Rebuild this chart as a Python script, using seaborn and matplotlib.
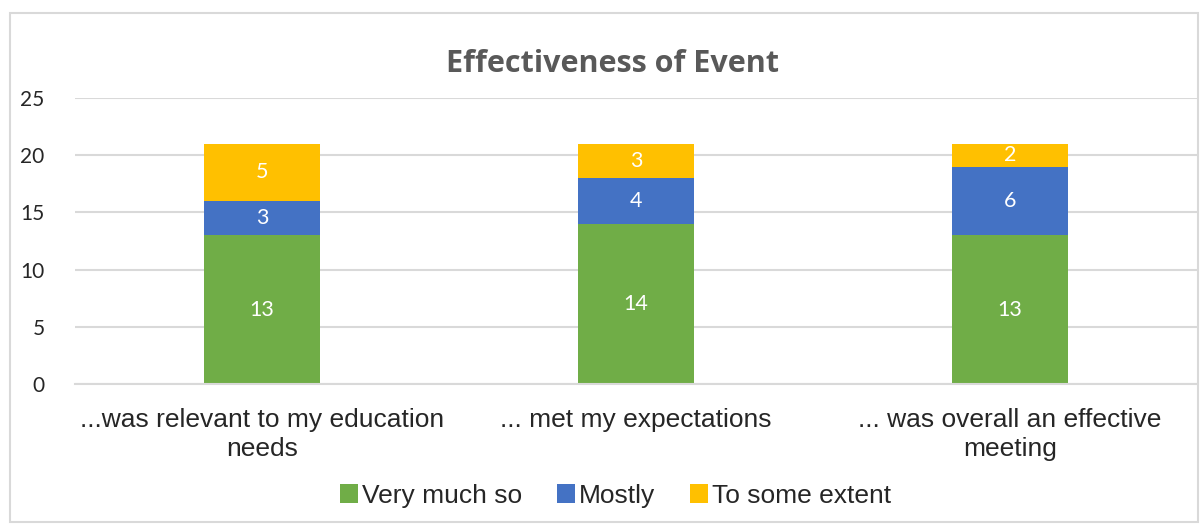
import matplotlib
matplotlib.use("Agg")
import matplotlib.pyplot as plt
import seaborn as sns
import numpy as np
from matplotlib.patches import Rectangle, Patch

# data
categories = ["...was relevant to my education\nneeds", "... met my expectations", "... was overall an effective\nmeeting"]
very_much = [13, 14, 13]
mostly = [3, 4, 6]
some_extent = [5, 3, 2]
series_names = ["Very much so", "Mostly", "To some extent"]
colors = ["#70AD47", "#4472C4", "#FFC000"]

sns.set_style("white")
plt.rcParams['font.family'] = ['Liberation Sans', 'DejaVu Sans']

fig = plt.figure(figsize=(12, 5.25), dpi=100)
ax = fig.add_axes([0.0625, 0.2686, 0.935, 0.5447])

series = [very_much, mostly, some_extent]
bottom = np.zeros(len(categories))
for vals, name, col in zip(series, series_names, colors):
    sns.barplot(x=categories, y=vals, bottom=bottom, color=col, width=0.31,
                ax=ax, edgecolor="none", saturation=1)
    for i, v in enumerate(vals):
        ax.text(i, bottom[i] + v / 2, str(v), ha="center", va="center",
                color="white", fontsize=15.5, family=["Lato", "DejaVu Sans"])
    bottom = bottom + np.array(vals)

ax.set_ylim(0, 25)
ax.set_xlim(-0.5, 2.5)
ax.set_yticks(range(0, 26, 5))
ax.yaxis.grid(True, color="#D9D9D9", linewidth=1.5)
ax.set_axisbelow(True)
for s in ["top", "right", "left"]:
    ax.spines[s].set_visible(False)
ax.spines["bottom"].set_color("#D9D9D9")
ax.spines["bottom"].set_linewidth(1.5)
ax.tick_params(axis="y", length=0, pad=22, labelsize=15)
ax.tick_params(axis="x", length=0, pad=17, labelsize=19)
for lbl in ax.get_yticklabels():
    lbl.set_fontfamily(["Lato", "DejaVu Sans"])
ax.set_xticks(range(len(categories)))
ax.set_xticklabels(categories, linespacing=1.3)

fig.text(0.51, 0.878, "Effectiveness of Event", ha="center", va="center",
         fontsize=22, fontweight="bold", color="#595959",
         family=["Open Sans", "DejaVu Sans"])

handles = [Patch(facecolor=c, edgecolor="none") for c in colors]
fig.legend(handles, series_names, loc="center", bbox_to_anchor=(0.513, 0.056),
           ncol=3, frameon=False, fontsize=19, handlelength=0.7, handleheight=0.7,
           handletextpad=0.15, columnspacing=1.3)

fig.patches.append(Rectangle((0.008, 0.005), 0.99, 0.97, transform=fig.transFigure,
                             fill=False, edgecolor="#D9D9D9", linewidth=1.5))

fig.savefig("out.png", dpi=100)
